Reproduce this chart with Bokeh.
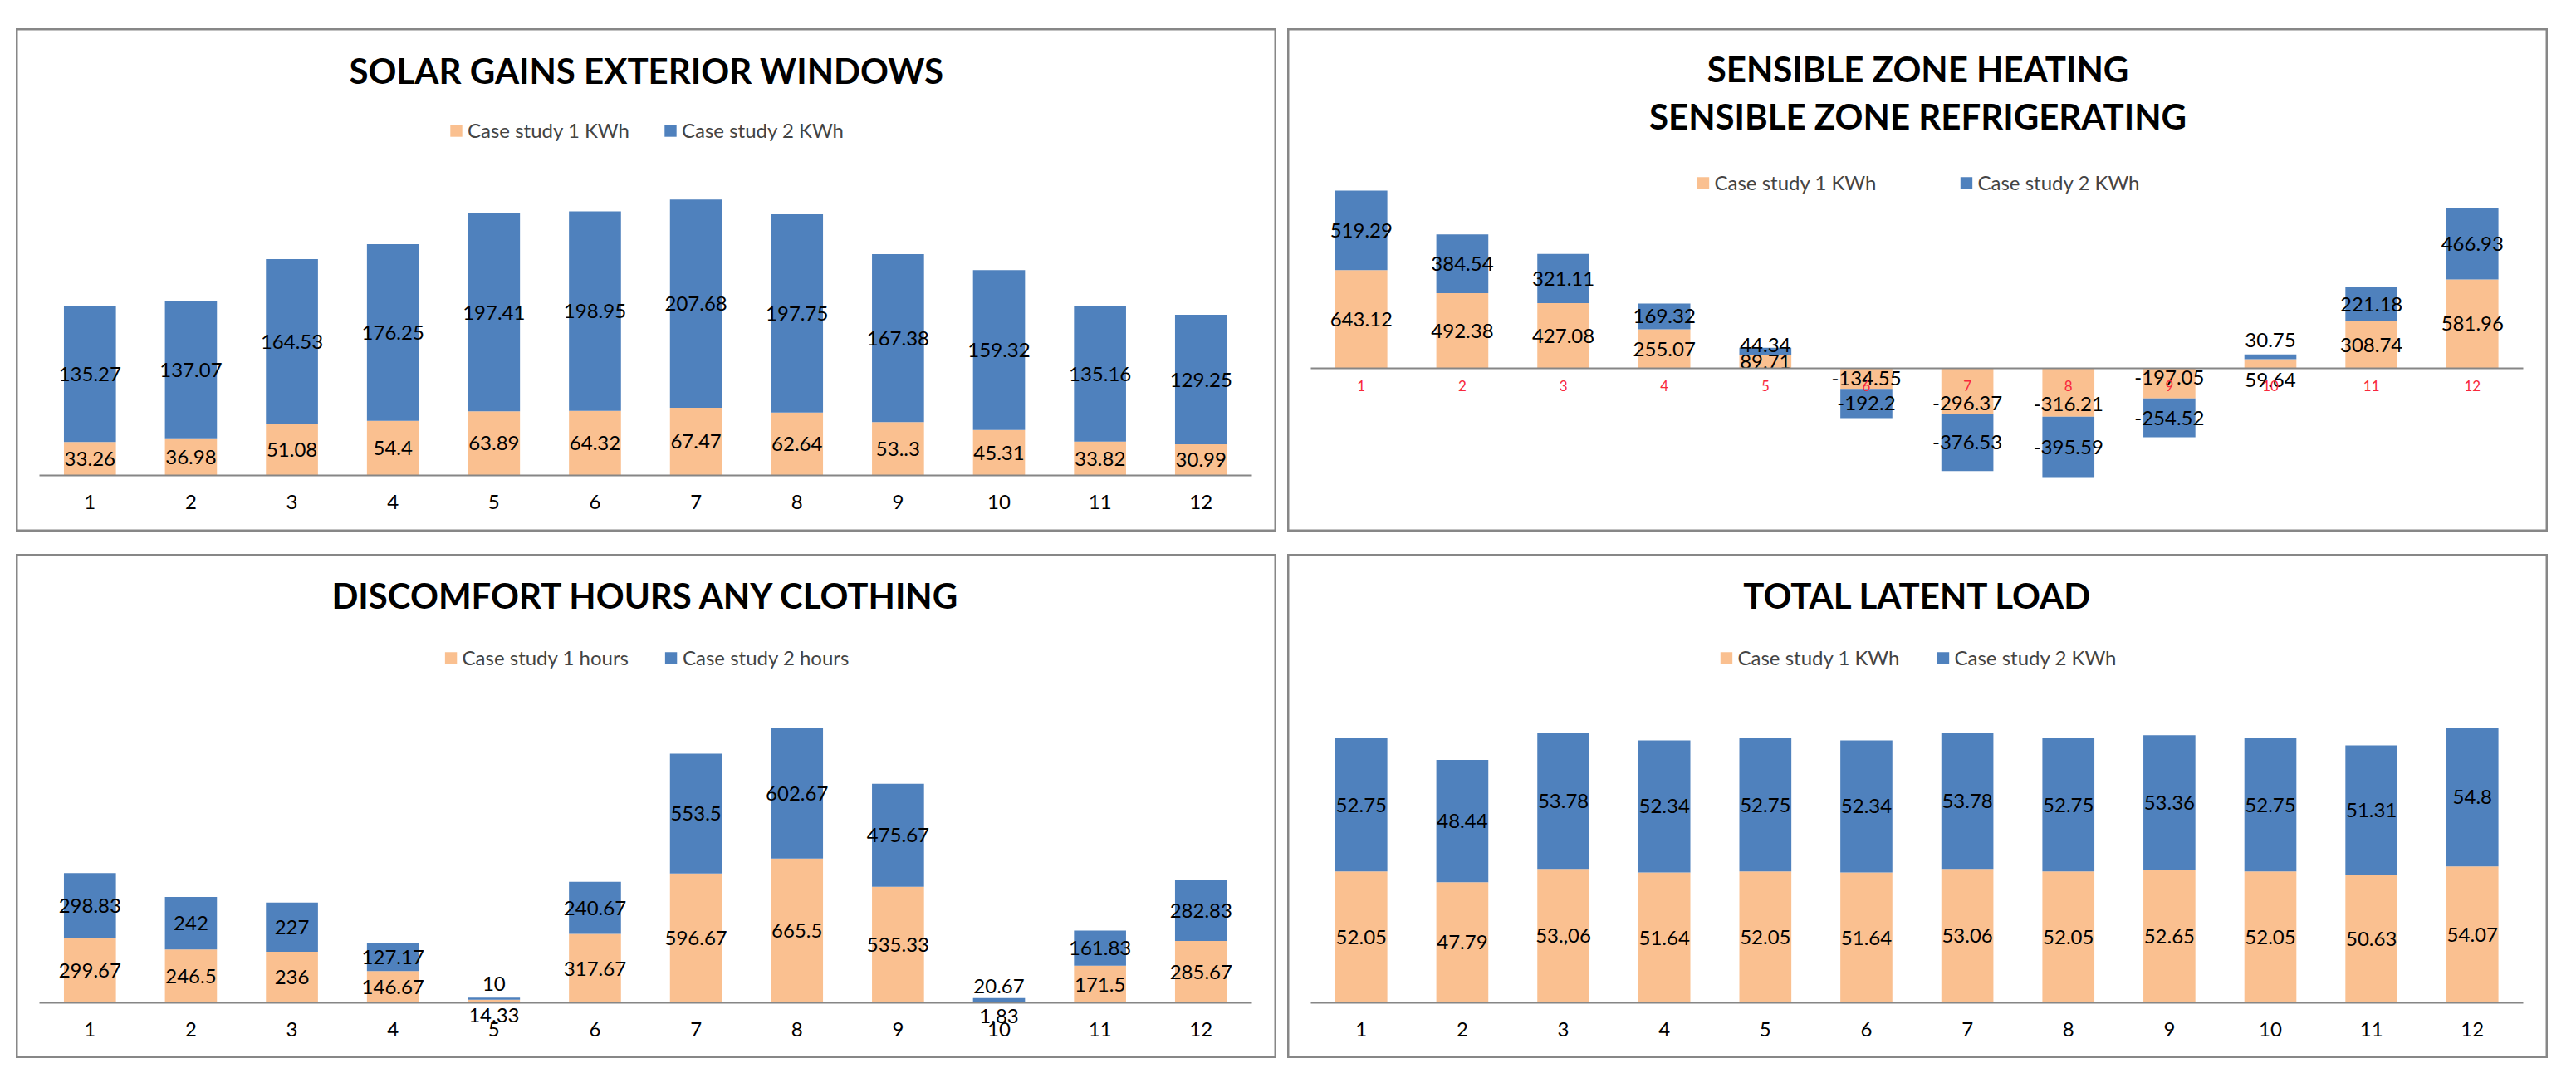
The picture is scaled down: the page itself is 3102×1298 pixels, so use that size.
import numpy as np
from bokeh.plotting import figure
from bokeh.models import (ColumnDataSource, Range1d, FixedTicker, Label, Legend,
                          LegendItem, Spacer)
from bokeh.layouts import row, column
from bokeh.core.properties import value
from bokeh.embed import file_html
from bokeh.resources import INLINE

# ---------------- data ----------------
months = list(range(1, 13))

solar_case1 = [33.26, 36.98, 51.08, 54.4, 63.89, 64.32, 67.47, 62.64, 53.3, 45.31, 33.82, 30.99]
solar_case2 = [135.27, 137.07, 164.53, 176.25, 197.41, 198.95, 207.68, 197.75, 167.38, 159.32, 135.16, 129.25]
solar_case1_label_text = {8: "53..3"}

sensible_case1 = [643.12, 492.38, 427.08, 255.07, 89.71, -134.55, -296.37, -316.21, -197.05, 59.64, 308.74, 581.96]
sensible_case2 = [519.29, 384.54, 321.11, 169.32, 44.34, -192.2, -376.53, -395.59, -254.52, 30.75, 221.18, 466.93]

discomfort_case1 = [299.67, 246.5, 236, 146.67, 14.33, 317.67, 596.67, 665.5, 535.33, 1.83, 171.5, 285.67]
discomfort_case2 = [298.83, 242, 227, 127.17, 10, 240.67, 553.5, 602.67, 475.67, 20.67, 161.83, 282.83]

latent_case1 = [52.05, 47.79, 53.06, 51.64, 52.05, 51.64, 53.06, 52.05, 52.65, 52.05, 50.63, 54.07]
latent_case2 = [52.75, 48.44, 53.78, 52.34, 52.75, 52.34, 53.78, 52.75, 53.36, 52.75, 51.31, 54.8]
latent_case1_label_text = {2: "53.,06"}

# ---------------- style ----------------
PEACH = "#FAC090"
BLUE = "#4F81BD"
FONT = "Lato"
GRAY = "#878787"
W = 1518


def fmt(v):
    return f"{v:g}"


def make_panel(title_lines, title_ys, legend_names, c1, c2, height, zero_top, ppu,
               legend_margin, legend_spacing, tick_color="black", tick_size="24px",
               tick_standoff=17, fix1=None, fix2=None, off1=None, off2=None):
    fix1 = fix1 or {}
    fix2 = fix2 or {}
    off1 = off1 or {}
    off2 = off2 or {}
    y_end = zero_top / ppu
    y_start = -(height - zero_top) / ppu
    p = figure(width=W, height=height, x_range=Range1d(0.27, 12.75),
               y_range=Range1d(y_start, y_end), output_backend="svg",
               toolbar_location=None, y_axis_location=None, tools="",
               min_border=0)
    p.xgrid.visible = False
    p.ygrid.visible = False
    p.outline_line_color = GRAY
    p.outline_line_width = 4
    p.background_fill_color = "white"
    p.border_fill_color = "white"

    a1 = np.array(c1, dtype=float)
    a2 = np.array(c2, dtype=float)
    top1 = a1
    top2 = a1 + a2
    r1 = p.vbar(x=months, bottom=0, top=top1, width=0.515, fill_color=PEACH, line_color=None)
    r2 = p.vbar(x=months, bottom=top1, top=top2, width=0.515, fill_color=BLUE, line_color=None)

    xs, ys, ts = [], [], []
    for i, m in enumerate(months):
        xs.append(m)
        ys.append(top1[i] / 2 - off1.get(i, 0) / ppu)
        ts.append(fix1.get(i, fmt(c1[i])))
    for i, m in enumerate(months):
        xs.append(m)
        ys.append((top1[i] + top2[i]) / 2 - off2.get(i, 0) / ppu)
        ts.append(fix2.get(i, fmt(c2[i])))
    src = ColumnDataSource(dict(x=xs, y=ys, t=ts))
    p.text(x="x", y="y", text="t", source=src, text_align="center",
           text_baseline="middle", text_font=value(FONT), text_font_size="24px",
           text_color="black")

    ax = p.xaxis[0]
    ax.fixed_location = 0
    ax.ticker = FixedTicker(ticks=months)
    ax.bounds = (0.5, 12.5)
    ax.axis_line_color = "#868686"
    ax.axis_line_width = 2
    ax.major_tick_line_color = None
    ax.minor_tick_line_color = None
    ax.major_label_text_font = FONT
    ax.major_label_text_font_size = tick_size
    ax.major_label_text_color = tick_color
    ax.major_label_standoff = tick_standoff

    for txt, ty in zip(title_lines, title_ys):
        p.add_layout(Label(x=W / 2, y=height - ty, x_units="screen", y_units="screen",
                           text=txt, text_align="center", text_baseline="middle",
                           text_font=FONT, text_font_style="bold",
                           text_font_size="42px", text_color="black"))

    leg = Legend(items=[LegendItem(label=legend_names[0], renderers=[r1]),
                        LegendItem(label=legend_names[1], renderers=[r2])],
                 location="top_center", orientation="horizontal",
                 border_line_color=None, background_fill_alpha=0,
                 label_text_font=FONT, label_text_font_size="24px",
                 glyph_width=18, glyph_height=18, label_standoff=5,
                 spacing=legend_spacing, padding=0, margin=legend_margin,
                 label_height=18)
    p.add_layout(leg)
    return p


p1 = make_panel(["SOLAR GAINS EXTERIOR WINDOWS"], [50],
                ["Case study 1 KWh", "Case study 2 KWh"],
                solar_case1, solar_case2, 606, 538, 1.2077, 108, 40,
                fix1=solar_case1_label_text)

p2 = make_panel(["SENSIBLE ZONE HEATING", "SENSIBLE ZONE REFRIGERATING"], [48, 105],
                ["Case study 1 KWh", "Case study 2 KWh"],
                sensible_case1, sensible_case2, 606, 409, 0.184, 171, 99,
                tick_color="#F8283C", tick_size="17px", tick_standoff=8,
                off1={6: 15, 7: 14, 8: -7, 9: 19}, off2={4: -7, 9: -20})

p3 = make_panel(["DISCOMFORT HOURS ANY CLOTHING"], [49],
                ["Case study 1 hours", "Case study 2 hours"],
                discomfort_case1, discomfort_case2, 607, 540, 0.2609, 110, 42,
                off1={4: 17, 9: 16}, off2={4: -18, 9: -17})

p4 = make_panel(["TOTAL LATENT LOAD"], [49],
                ["Case study 1 KWh", "Case study 2 KWh"],
                latent_case1, latent_case2, 607, 540, 3.04, 110, 43,
                fix1=latent_case1_label_text)

layout = column(
    Spacer(height=34),
    row(Spacer(width=19), p1, Spacer(width=13), p2),
    Spacer(height=27),
    row(Spacer(width=19), p3, Spacer(width=13), p4),
)

open("out.html", "w").write(file_html(layout, INLINE))
